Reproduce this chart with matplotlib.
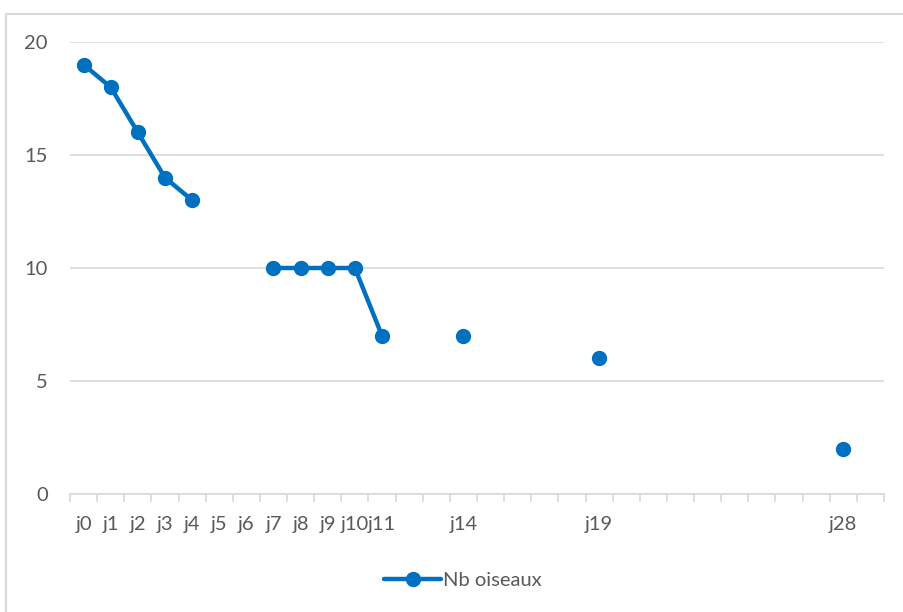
import numpy as np
import matplotlib
matplotlib.use("Agg")
import matplotlib.pyplot as plt
from matplotlib.patches import Rectangle

# jours de suivi (j0..j29), seules certaines étiquettes sont affichées
jours = ["j0", "j1", "j2", "j3", "j4", "j5", "j6", "j7", "j8", "j9", "j10", "j11",
         "", "", "j14", "", "", "", "", "j19", "", "", "", "", "", "", "", "", "j28", ""]
nan = np.nan
nb_oiseaux = [19, 18, 16, 14, 13, nan, nan, 10, 10, 10, 10, 7,
              nan, nan, 7, nan, nan, nan, nan, 6, nan, nan, nan, nan, nan, nan, nan, nan, 2, nan]

plt.rcParams['font.family'] = ['Lato', 'DejaVu Sans']
gris = '#595959'
bleu = '#0070C0'
taille = 14.5

fig = plt.figure(figsize=(9.04, 6.12), dpi=100)
ax = fig.add_axes([70/904, 1-494/612, 814/904, 452/612])

x = np.arange(len(jours))
ax.plot(x, nb_oiseaux, color=bleu, lw=3.2, marker='o', ms=10, label='Nb oiseaux',
        solid_capstyle='round', zorder=3)

ax.set_xlim(-0.5, len(jours) - 0.5)
ax.set_ylim(0, 20)
ax.set_yticks([0, 5, 10, 15, 20])
ax.set_xticks(x)
ax.set_xticklabels(jours)
ax.set_xticks(np.arange(-0.5, len(jours), 1), minor=True)
ax.tick_params(axis='x', which='major', length=0, pad=16, labelsize=taille, labelcolor=gris)
ax.tick_params(axis='x', which='minor', length=6, width=1.2, color='#d9d9d9')
ax.tick_params(axis='y', length=0, pad=16, labelsize=taille, labelcolor=gris)

ax.grid(axis='y', color='#d9d9d9', lw=1.2)
ax.set_axisbelow(True)
for s in ['top', 'right', 'left']:
    ax.spines[s].set_visible(False)
ax.spines['bottom'].set_color('#d9d9d9')
ax.spines['bottom'].set_linewidth(1.2)

fig.legend(loc='center', bbox_to_anchor=(463/904, 1-580/612), frameon=False,
           fontsize=taille, labelcolor=gris, handlelength=2.8, handletextpad=0.1)

# cadre du graphique
fig.patches.append(Rectangle((6/904, -0.1), 1.2, 1-14/612+0.1, transform=fig.transFigure,
                             fill=False, edgecolor='#d9d9d9', lw=1.5))

fig.savefig('out.png', dpi=100)
